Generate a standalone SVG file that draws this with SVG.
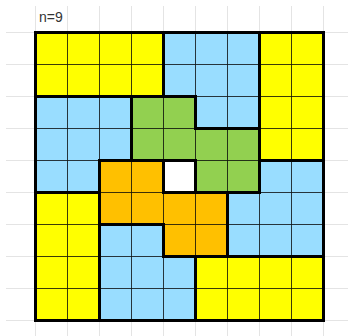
<svg xmlns="http://www.w3.org/2000/svg" width="348" height="336" viewBox="0 0 348 336">
<style>
.bg{stroke:#e4e4e4;stroke-width:1;fill:none}
.c{stroke:#000;stroke-opacity:0.65;stroke-width:1}
.y{fill:#ffff00}
.b{fill:#99ddff}
.g{fill:#92d050}
.o{fill:#ffc000}
.w{fill:#ffffff}
.out{fill:none;stroke:#000;stroke-width:3;stroke-linejoin:miter}
.lbl{font-family:"Liberation Sans",Arial,sans-serif;font-size:14px;fill:#333}
</style>
<g id="background-grid" class="bg">
<path d="M6 32.5H348M6 64.5H348M6 96.5H348M6 128.5H348M6 160.5H348M6 192.5H348M6 224.5H348M6 256.5H348M6 288.5H348M6 320.5H348"/>
<path d="M35.5 6V336M67.5 6V336M99.5 6V336M131.5 6V336M163.5 6V336M195.5 6V336M227.5 6V336M259.5 6V336M291.5 6V336M323.5 6V336"/>
</g>
<text class="lbl" x="39" y="21.7">n=9</text>
<g id="piece1" class="y">
<rect class="c" x="35.5" y="32.5" width="32" height="32"/><rect class="c" x="67.5" y="32.5" width="32" height="32"/><rect class="c" x="99.5" y="32.5" width="32" height="32"/><rect class="c" x="131.5" y="32.5" width="32" height="32"/>
<rect class="c" x="35.5" y="64.5" width="32" height="32"/><rect class="c" x="67.5" y="64.5" width="32" height="32"/><rect class="c" x="99.5" y="64.5" width="32" height="32"/><rect class="c" x="131.5" y="64.5" width="32" height="32"/>
</g>
<g id="piece2" class="b">
<rect class="c" x="163.5" y="32.5" width="32" height="32"/><rect class="c" x="195.5" y="32.5" width="32" height="32"/><rect class="c" x="227.5" y="32.5" width="32" height="32"/>
<rect class="c" x="163.5" y="64.5" width="32" height="32"/><rect class="c" x="195.5" y="64.5" width="32" height="32"/><rect class="c" x="227.5" y="64.5" width="32" height="32"/>
<rect class="c" x="195.5" y="96.5" width="32" height="32"/><rect class="c" x="227.5" y="96.5" width="32" height="32"/>
</g>
<g id="piece3" class="y">
<rect class="c" x="259.5" y="32.5" width="32" height="32"/><rect class="c" x="291.5" y="32.5" width="32" height="32"/>
<rect class="c" x="259.5" y="64.5" width="32" height="32"/><rect class="c" x="291.5" y="64.5" width="32" height="32"/>
<rect class="c" x="259.5" y="96.5" width="32" height="32"/><rect class="c" x="291.5" y="96.5" width="32" height="32"/>
<rect class="c" x="259.5" y="128.5" width="32" height="32"/><rect class="c" x="291.5" y="128.5" width="32" height="32"/>
</g>
<g id="piece4" class="b">
<rect class="c" x="35.5" y="96.5" width="32" height="32"/><rect class="c" x="67.5" y="96.5" width="32" height="32"/><rect class="c" x="99.5" y="96.5" width="32" height="32"/>
<rect class="c" x="35.5" y="128.5" width="32" height="32"/><rect class="c" x="67.5" y="128.5" width="32" height="32"/><rect class="c" x="99.5" y="128.5" width="32" height="32"/>
<rect class="c" x="35.5" y="160.5" width="32" height="32"/><rect class="c" x="67.5" y="160.5" width="32" height="32"/>
</g>
<g id="piece5" class="g">
<rect class="c" x="131.5" y="96.5" width="32" height="32"/><rect class="c" x="163.5" y="96.5" width="32" height="32"/>
<rect class="c" x="131.5" y="128.5" width="32" height="32"/><rect class="c" x="163.5" y="128.5" width="32" height="32"/><rect class="c" x="195.5" y="128.5" width="32" height="32"/><rect class="c" x="227.5" y="128.5" width="32" height="32"/>
<rect class="c" x="195.5" y="160.5" width="32" height="32"/><rect class="c" x="227.5" y="160.5" width="32" height="32"/>
</g>
<g id="piece6" class="o">
<rect class="c" x="99.5" y="160.5" width="32" height="32"/><rect class="c" x="131.5" y="160.5" width="32" height="32"/>
<rect class="c" x="99.5" y="192.5" width="32" height="32"/><rect class="c" x="131.5" y="192.5" width="32" height="32"/><rect class="c" x="163.5" y="192.5" width="32" height="32"/><rect class="c" x="195.5" y="192.5" width="32" height="32"/>
<rect class="c" x="163.5" y="224.5" width="32" height="32"/><rect class="c" x="195.5" y="224.5" width="32" height="32"/>
</g>
<g id="piece7" class="b">
<rect class="c" x="259.5" y="160.5" width="32" height="32"/><rect class="c" x="291.5" y="160.5" width="32" height="32"/>
<rect class="c" x="227.5" y="192.5" width="32" height="32"/><rect class="c" x="259.5" y="192.5" width="32" height="32"/><rect class="c" x="291.5" y="192.5" width="32" height="32"/>
<rect class="c" x="227.5" y="224.5" width="32" height="32"/><rect class="c" x="259.5" y="224.5" width="32" height="32"/><rect class="c" x="291.5" y="224.5" width="32" height="32"/>
</g>
<g id="piece8" class="y">
<rect class="c" x="35.5" y="192.5" width="32" height="32"/><rect class="c" x="67.5" y="192.5" width="32" height="32"/>
<rect class="c" x="35.5" y="224.5" width="32" height="32"/><rect class="c" x="67.5" y="224.5" width="32" height="32"/>
<rect class="c" x="35.5" y="256.5" width="32" height="32"/><rect class="c" x="67.5" y="256.5" width="32" height="32"/>
<rect class="c" x="35.5" y="288.5" width="32" height="32"/><rect class="c" x="67.5" y="288.5" width="32" height="32"/>
</g>
<g id="piece9" class="b">
<rect class="c" x="99.5" y="224.5" width="32" height="32"/><rect class="c" x="131.5" y="224.5" width="32" height="32"/>
<rect class="c" x="99.5" y="256.5" width="32" height="32"/><rect class="c" x="131.5" y="256.5" width="32" height="32"/><rect class="c" x="163.5" y="256.5" width="32" height="32"/>
<rect class="c" x="99.5" y="288.5" width="32" height="32"/><rect class="c" x="131.5" y="288.5" width="32" height="32"/><rect class="c" x="163.5" y="288.5" width="32" height="32"/>
</g>
<g id="piece10" class="y">
<rect class="c" x="195.5" y="256.5" width="32" height="32"/><rect class="c" x="227.5" y="256.5" width="32" height="32"/><rect class="c" x="259.5" y="256.5" width="32" height="32"/><rect class="c" x="291.5" y="256.5" width="32" height="32"/>
<rect class="c" x="195.5" y="288.5" width="32" height="32"/><rect class="c" x="227.5" y="288.5" width="32" height="32"/><rect class="c" x="259.5" y="288.5" width="32" height="32"/><rect class="c" x="291.5" y="288.5" width="32" height="32"/>
</g>
<g id="hole">
<rect class="w" x="163.5" y="160.5" width="32" height="32"/>
</g>
<g id="outlines" class="out">
<path d="M35.5 32.5H163.5V96.5H35.5Z"/>
<path d="M163.5 32.5H259.5V128.5H195.5V96.5H163.5Z"/>
<path d="M259.5 32.5H323.5V160.5H259.5Z"/>
<path d="M35.5 96.5H131.5V160.5H99.5V192.5H35.5Z"/>
<path d="M131.5 96.5H195.5V128.5H259.5V192.5H195.5V160.5H131.5Z"/>
<path d="M99.5 160.5H163.5V192.5H227.5V256.5H163.5V224.5H99.5Z"/>
<path d="M259.5 160.5H323.5V256.5H227.5V192.5H259.5Z"/>
<path d="M35.5 192.5H99.5V320.5H35.5Z"/>
<path d="M99.5 224.5H163.5V256.5H195.5V320.5H99.5Z"/>
<path d="M195.5 256.5H323.5V320.5H195.5Z"/>
<path d="M163.5 160.5H195.5V192.5H163.5Z"/>
</g>
</svg>
